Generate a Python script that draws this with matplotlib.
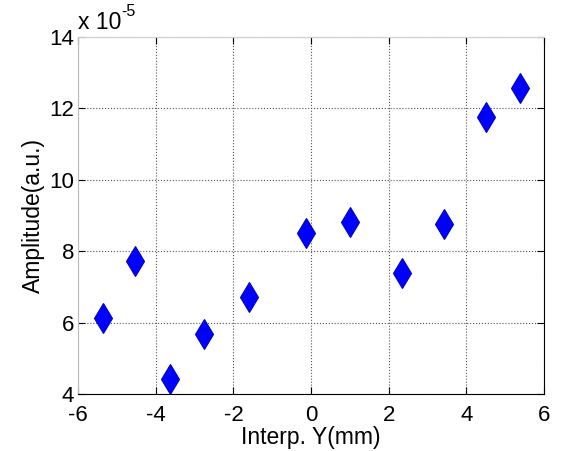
import numpy as np
import matplotlib
matplotlib.use('Agg')
import matplotlib.pyplot as plt

# Werte (Amplitude in Einheiten von 1e-5)
interp_y = [-5.36, -4.54, -3.62, -2.75, -1.61, -0.14, 1.00, 2.34, 3.42, 4.52, 5.38]
amplitude = [6.14, 7.73, 4.43, 5.69, 6.73, 8.52, 8.83, 7.38, 8.76, 11.77, 12.56]
x_ticks = [-6, -4, -2, 0, 2, 4, 6]
y_ticks = [4, 6, 8, 10, 12, 14]

plt.rcParams['font.family'] = ['Liberation Sans', 'DejaVu Sans']
plt.rcParams['axes.unicode_minus'] = False

fig = plt.figure(figsize=(5.66, 4.51), dpi=100)
ax = fig.add_axes([0.138, 0.126, 0.823, 0.792])

ax.plot(interp_y, amplitude, linestyle='none', marker='d', markersize=15,
        markerfacecolor='#0000ff', markeredgecolor='#0000c8', markeredgewidth=0.8)

ax.set_xlim(-6, 6)
ax.set_ylim(4, 14)
ax.set_xticks(x_ticks)
ax.set_yticks(y_ticks)
ax.tick_params(direction='in', top=True, right=True, length=5, width=0.8,
               labelsize=16)
ax.tick_params(axis='x', pad=7.5)
ax.tick_params(axis='y', pad=3)
ax.grid(True, linestyle=':', color='#555555', linewidth=0.8)

#Rahmen wie im Original: oben/links hell, unten/rechts schwarz
ax.spines['top'].set_color('#cfcfcf')
ax.spines['left'].set_color('#bbbbbb')
ax.spines['bottom'].set_color('black')
ax.spines['right'].set_color('black')

ax.set_xlabel('Interp. Y(mm)', fontsize=16.5, labelpad=0)
ax.set_ylabel('Amplitude(a.u.)', fontsize=16.5, labelpad=3)

#Exponent oben links
ax.text(0.0, 1.008, 'x 10', transform=ax.transAxes,
        fontsize=16.5, ha='left', va='bottom')
ax.text(0.092, 1.05, '-5', transform=ax.transAxes,
        fontsize=11.5, ha='left', va='bottom')

fig.savefig('out.png', dpi=100)
